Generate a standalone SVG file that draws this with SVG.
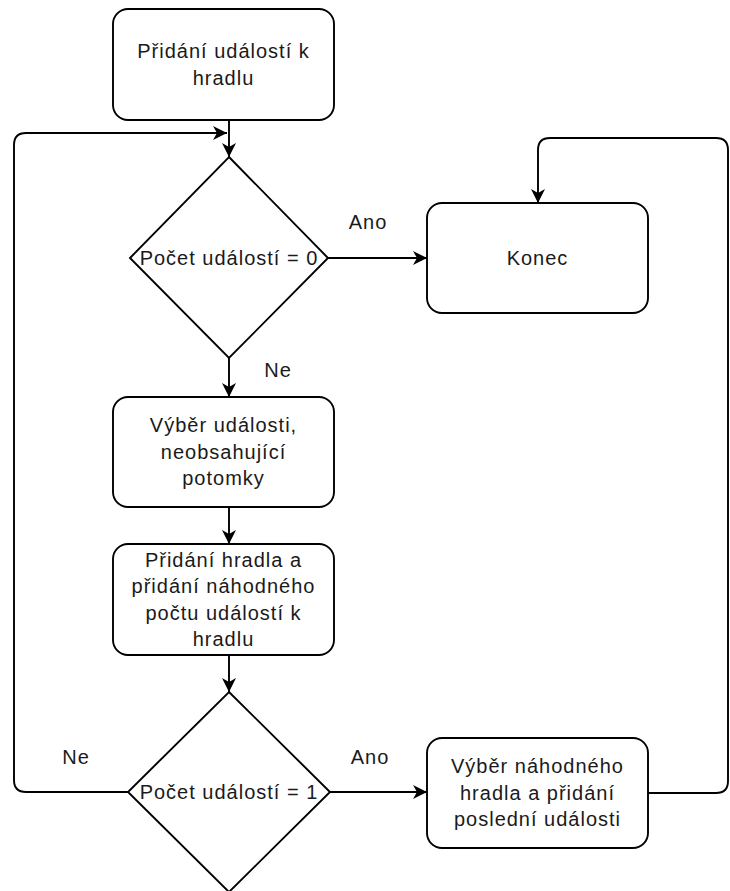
<svg xmlns="http://www.w3.org/2000/svg" width="730" height="891" viewBox="0 0 730 891">
<style>
.node{fill:#fff;stroke:#000;stroke-width:1.9}
.edge{fill:none;stroke:#000;stroke-width:1.9}
text{font-family:"Liberation Sans",Arial,sans-serif;font-size:20px;letter-spacing:1px;fill:#1a1a1a;text-anchor:middle}
</style>
<defs>
<marker id="arr" markerUnits="userSpaceOnUse" markerWidth="16" markerHeight="14" viewBox="0 0 16 14" refX="14" refY="7" orient="auto">
<path d="M0,0 L14,7 L0,14 L4,7 Z" fill="#000"/>
</marker>
</defs>
<g id="connectors">
<path class="edge" d="M229,120 L229,157" marker-end="url(#arr)"/>
<path class="edge" d="M128,792 L26,792 Q14,792 14,780 L14,145 Q14,133 26,133 L227,133" marker-end="url(#arr)"/>
<path class="edge" d="M328,258 L427,258" marker-end="url(#arr)"/>
<path class="edge" d="M229,358 L229,397" marker-end="url(#arr)"/>
<path class="edge" d="M229,507 L229,544" marker-end="url(#arr)"/>
<path class="edge" d="M229,655 L229,692" marker-end="url(#arr)"/>
<path class="edge" d="M330,792 L427,792" marker-end="url(#arr)"/>
<path class="edge" d="M648,793 L716,793 Q728,793 728,781 L728,150 Q728,138 716,138 L550,138 Q538,138 538,150 L538,203" marker-end="url(#arr)"/>
<text x="368" y="229">Ano</text>
<text x="278" y="377">Ne</text>
<text x="76" y="764">Ne</text>
<text x="370" y="764">Ano</text>
</g>
<g id="start">
<rect class="node" x="113" y="9" width="221" height="111" rx="15"/>
<text x="223.5" y="58">Přidání událostí k</text>
<text x="223.5" y="85">hradlu</text>
</g>
<g id="decision1">
<polygon class="node" points="229,157 328,258 229,358 130,258"/>
<text x="229" y="265">Počet událostí = 0</text>
</g>
<g id="end">
<rect class="node" x="427" y="203" width="221" height="110" rx="15"/>
<text x="537.5" y="265">Konec</text>
</g>
<g id="select">
<rect class="node" x="113" y="397" width="221" height="110" rx="15"/>
<text x="223.5" y="432">Výběr události,</text>
<text x="223.5" y="459">neobsahující</text>
<text x="223.5" y="485">potomky</text>
</g>
<g id="addgate">
<rect class="node" x="113" y="544" width="221" height="111" rx="15"/>
<text x="223.5" y="567">Přidání hradla a</text>
<text x="223.5" y="593">přidání náhodného</text>
<text x="223.5" y="620">počtu událostí k</text>
<text x="223.5" y="646">hradlu</text>
</g>
<g id="decision2">
<polygon class="node" points="229,692 330,792 229,892 128,792"/>
<text x="229" y="799">Počet událostí = 1</text>
</g>
<g id="lastevent">
<rect class="node" x="427" y="738" width="221" height="110" rx="15"/>
<text x="537.5" y="773">Výběr náhodného</text>
<text x="537.5" y="800">hradla a přidání</text>
<text x="537.5" y="826">poslední události</text>
</g>
</svg>
